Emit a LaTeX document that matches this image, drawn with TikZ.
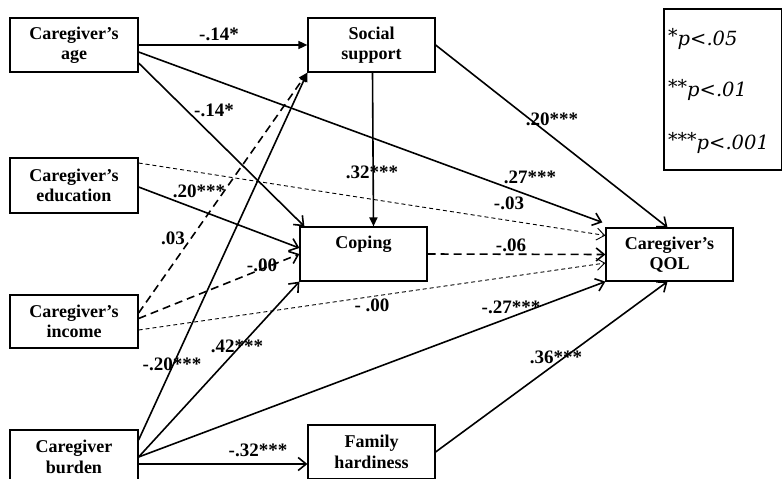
\documentclass[tikz,border=0pt]{standalone}
\usepackage{fontspec}
\setmainfont{Liberation Serif}
\newfontfamily\legendfont{DejaVu Serif}
\usetikzlibrary{arrows.meta}

\newcommand{\keystar}[1]{\raisebox{0.35ex}{\fontsize{19}{19}\selectfont #1}}

\tikzset{
	var/.style={draw, line width=1.2pt, minimum width=128pt, minimum height=54pt, align=center, inner sep=2pt, font=\fontsize{18}{20.5}\selectfont\bfseries},
	lbl/.style={inner sep=0pt, font=\fontsize{19}{21}\selectfont\bfseries},
	link/.style={line width=1.6pt, -{Straight Barb[length=8pt,width=13pt]}},
	sig/.style={line width=1.6pt, -{Triangle[length=9pt,width=8pt]}},
	nsbig/.style={link, dash pattern=on 8pt off 5pt},
	nssig/.style={sig, dash pattern=on 8pt off 5pt},
	nsthin/.style={line width=0.9pt, dash pattern=on 4pt off 3pt, -{Straight Barb[length=8pt,width=12pt]}},
	key/.style={anchor=west, inner sep=0pt, font=\fontsize{19.5}{21}\selectfont\legendfont\itshape}
}

\begin{document}
\begin{tikzpicture}[x=1pt, y=-1pt]
				\clip (0,0) rectangle (782,479);
				
				% Переменные модели
				\node[var] (age) at (74,45) {Caregiver’s\\age};
				\node[var, minimum width=127pt] (social) at (371.5,45) {Social\\support};
				\node[var, minimum height=55pt] (edu) at (74,185.5) {Caregiver’s\\education};
				\node[var, minimum width=127pt] (coping) at (363.5,254) {Coping\\\phantom{g}};
				\node[var, minimum height=53pt] (income) at (74,321.5) {Caregiver’s\\income};
				\node[var] (burden) at (74,457) {Caregiver\\burden};
				\node[var, minimum width=127pt] (hardy) at (371.5,452) {Family\\hardiness};
				\node[var, minimum width=127pt, minimum height=53pt] (qol) at (669.5,254.5) {Caregiver’s\\QOL};
				
				% Легенда
				\node[draw, line width=1.2pt, minimum width=118pt, minimum height=161pt] (legend) at (723,89.5) {};
				\node[key] (p1) at (668,39) {\keystar{*}p<.05};
				\node[key] (p2) at (668,90) {\keystar{**}p<.01};
				\node[key] (p3) at (668,143) {\keystar{***}p<.001};
				
				% Пути
				\draw[sig] (age) -- (social);
				\draw[link] ([yshift=-18pt]age.east) -- ([xshift=5pt]coping.north west);
				\draw[link] ([yshift=-7pt]age.east) -- ([xshift=-3pt,yshift=5pt]qol.north west);
				\draw[sig] ([xshift=1pt]social.south) -- ([xshift=10pt]coping.north);
				\draw[link] (social.east) -- ([xshift=-2pt]qol.north);
				\draw[nsthin] ([yshift=22.5pt]edu.east) -- ([yshift=19pt]qol.west);
				\draw[link] ([yshift=-1.5pt]edu.east) -- ([yshift=6pt]coping.west);
				\draw[nssig] ([yshift=8.5pt]income.east) -- (social.south west);
				\draw[nsbig] ([yshift=3pt]income.east) -- (coping.west);
				\draw[nsthin] ([yshift=-8.5pt]income.east) -- ([yshift=-8.5pt]qol.west);
				\draw[nsbig] (coping.east) -- (qol.west);
				\draw[sig] ([yshift=17pt]burden.east) -- (social.south west);
				\draw[link] (burden.east) -- (coping.south west);
				\draw[link] (burden.east) -- (qol.south west);
				\draw[link] ([yshift=-7pt]burden.east) -- ([yshift=-12pt]hardy.west);
				\draw[link] (hardy.east) -- ([xshift=-2pt]qol.south);
				
				% Коэффициенты
				\node[lbl] (c1) at (219,34) {-.14*};
				\node[lbl] (c2) at (214,110) {-.14*};
				\node[lbl] (c3) at (530,177) {.27***};
				\node[lbl] (c4) at (372,172) {.32***};
				\node[lbl] (c5) at (552,119) {.20***};
				\node[lbl] (c6) at (509,203) {-.03};
				\node[lbl] (c7) at (199,191) {.20***};
				\node[lbl] (c8) at (173,238) {.03};
				\node[lbl] (c9) at (262,265) {-.00};
				\node[lbl] (c10) at (372,305) {- .00};
				\node[lbl] (c11) at (511,245) {-.06};
				\node[lbl] (c12) at (172,364) {-.20***};
				\node[lbl] (c13) at (237,346) {.42***};
				\node[lbl] (c14) at (511,307) {-.27***};
				\node[lbl] (c15) at (258,450) {-.32***};
				\node[lbl] (c16) at (556,357) {.36***};
			\end{tikzpicture}
\end{document}
